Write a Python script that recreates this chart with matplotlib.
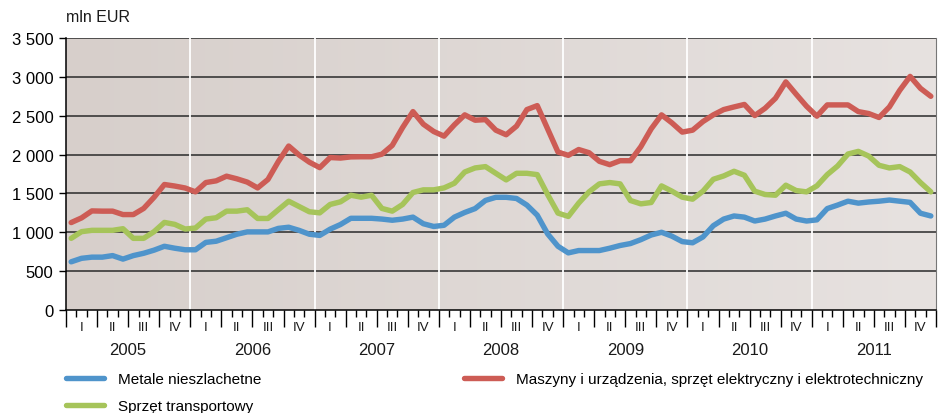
import numpy as np
import matplotlib
matplotlib.use('Agg')
from matplotlib import pyplot as plt
from matplotlib.transforms import blended_transform_factory
from matplotlib.ticker import FuncFormatter

plt.rcParams['font.family'] = ['Liberation Sans', 'DejaVu Sans']

years = ['2005', '2006', '2007', '2008', '2009', '2010', '2011']
quarters = ['I', 'II', 'III', 'IV']

# monthly values, mln EUR, Jan 2005 - Dec 2011
metale = [
    620, 665, 680, 680, 700, 655, 700, 730, 770, 820, 795, 775,
    775, 870, 885, 930, 975, 1005, 1005, 1005, 1050, 1065, 1025, 975,
    960, 1040, 1100, 1180, 1180, 1180, 1170, 1155, 1170, 1195, 1110, 1075,
    1090, 1195, 1255, 1305, 1410, 1450, 1450, 1435, 1350, 1220, 980, 820,
    735, 765, 765, 765, 795, 830, 855, 905, 965, 1000, 950, 880,
    865, 940, 1085, 1170, 1210, 1195, 1145, 1170, 1210, 1245, 1170, 1145,
    1160, 1305, 1350, 1400, 1375, 1390, 1400, 1415, 1400, 1385, 1245, 1210,
]
maszyny = [
    1125, 1185, 1275, 1272, 1272, 1228, 1228, 1307, 1450, 1615, 1595, 1570,
    1520, 1640, 1662, 1722, 1688, 1646, 1571, 1680, 1910, 2110, 1995, 1902,
    1832, 1962, 1955, 1970, 1972, 1972, 2005, 2118, 2348, 2553, 2391, 2297,
    2237, 2383, 2511, 2442, 2450, 2314, 2255, 2366, 2579, 2630, 2331, 2033,
    1990, 2065, 2024, 1913, 1870, 1921, 1921, 2101, 2331, 2511, 2408, 2289,
    2314, 2425, 2511, 2579, 2613, 2645, 2502, 2596, 2724, 2935, 2776, 2622,
    2494, 2639, 2639, 2639, 2553, 2528, 2477, 2613, 2827, 3006, 2852, 2750,
]
transport = [
    922, 1008, 1025, 1025, 1025, 1046, 922, 922, 1008, 1127, 1102, 1042,
    1055, 1170, 1187, 1272, 1272, 1290, 1178, 1178, 1290, 1400, 1332, 1264,
    1250, 1358, 1392, 1477, 1452, 1477, 1307, 1272, 1358, 1512, 1546, 1546,
    1571, 1631, 1776, 1828, 1845, 1759, 1674, 1759, 1759, 1742, 1486, 1247,
    1204, 1375, 1520, 1623, 1640, 1623, 1409, 1366, 1383, 1597, 1529, 1452,
    1426, 1529, 1682, 1725, 1785, 1734, 1529, 1486, 1477, 1606, 1537, 1520,
    1597, 1742, 1853, 2007, 2041, 1981, 1862, 1828, 1845, 1776, 1640, 1520,
]

c_blue = '#4f94cb'
c_red = '#cd5c55'
c_green = '#a6c45a'

fig = plt.figure(figsize=(9.38, 4.14), dpi=100)
ax = fig.add_axes([66 / 938, 1 - 311 / 414, 870 / 938, 272 / 414])

n = len(metale)
x = np.arange(n) + 0.5

# background gradient, darker on the left
grad = np.linspace(0, 1, 256).reshape(1, -1)
cl = np.array([215, 207, 203]) / 255
cr = np.array([231, 226, 224]) / 255
img = cl[None, None, :] * (1 - grad[..., None]) + cr[None, None, :] * grad[..., None]
ax.imshow(img, extent=[0, n, 0, 3500], aspect='auto', zorder=0)

for v in range(500, 3501, 500):
    ax.axhline(v, color='#2a2a2a', lw=1.1, zorder=1)
for k in range(1, len(years)):
    ax.axvline(12 * k, color='white', lw=1.3, zorder=1)

l1, = ax.plot(x, metale, color=c_blue, lw=3.9, solid_joinstyle='round',
              solid_capstyle='round', zorder=3, label='Metale nieszlachetne')
l3, = ax.plot(x, maszyny, color=c_red, lw=3.9, solid_joinstyle='round',
              solid_capstyle='round', zorder=3,
              label='Maszyny i urządzenia, sprzęt elektryczny i elektrotechniczny')
l2, = ax.plot(x, transport, color=c_green, lw=3.9, solid_joinstyle='round',
              solid_capstyle='round', zorder=3, label='Sprzęt transportowy')

ax.set_xlim(0, n)
ax.set_ylim(0, 3500)
ax.set_yticks(range(0, 3501, 500))
ax.yaxis.set_major_formatter(FuncFormatter(lambda v, p: f'{int(v):,}'.replace(',', ' ')))
ax.tick_params(axis='y', length=5, width=1, labelsize=12, pad=4, color='black')

ax.set_xticks(np.arange(0, n + 1, 3))
ax.set_xticks(np.arange(0, n + 1, 1), minor=True)
ax.set_xticklabels([])
ax.tick_params(axis='x', which='major', length=12, width=1, color='black')
ax.tick_params(axis='x', which='minor', length=5, width=1, color='black')

for s in ['left', 'bottom']:
    ax.spines[s].set_color('black')
    ax.spines[s].set_linewidth(1.1)
ax.spines['top'].set_visible(False)
ax.spines['right'].set_color('#777777')

tr = blended_transform_factory(ax.transData, fig.transFigure)
for yi, yr in enumerate(years):
    for qi, q in enumerate(quarters):
        ax.text(12 * yi + 3 * qi + 1.5, 1 - 328 / 414, q, transform=tr,
                ha='center', va='center', fontsize=9.5, color='#1a1a1a')
    ax.text(12 * yi + 6, 1 - 351 / 414, yr, transform=tr,
            ha='center', va='center', fontsize=12, color='#1a1a1a')

fig.text(66 / 938, 1 - 18 / 414, 'mln EUR', ha='left', va='center', fontsize=11.5, color='#1a1a1a')

leg = fig.legend(handles=[l1, l2, l3], ncol=2, loc='upper left',
                 bbox_to_anchor=(60 / 938, 1 - 367 / 414), frameon=False,
                 fontsize=11, handlelength=2.5, handletextpad=0.9,
                 columnspacing=13.25, labelspacing=0.85, borderaxespad=0)

fig.savefig('out.png', dpi=100)
